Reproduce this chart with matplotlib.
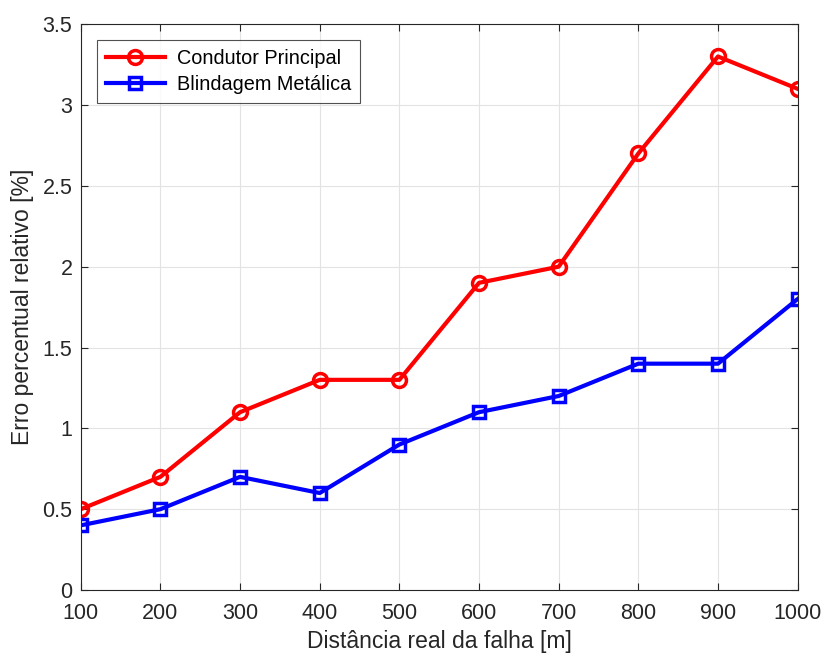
import matplotlib
matplotlib.use("Agg")
import matplotlib.pyplot as plt

distancia = [100, 200, 300, 400, 500, 600, 700, 800, 900, 1000]
erro_condutor = [0.5, 0.7, 1.1, 1.3, 1.3, 1.9, 2.0, 2.7, 3.3, 3.1]
erro_blindagem = [0.4, 0.5, 0.7, 0.6, 0.9, 1.1, 1.2, 1.4, 1.4, 1.8]
yticks = [0, 0.5, 1, 1.5, 2, 2.5, 3, 3.5]
ytick_labels = ["0", "0.5", "1", "1.5", "2", "2.5", "3", "3.5"]

plt.rcParams["font.family"] = ["Liberation Sans", "DejaVu Sans"]

fig = plt.figure(figsize=(8.24, 6.58), dpi=100)
ax = fig.add_axes([0.098, 0.1033, 0.870, 0.860])

ax.plot(distancia, erro_condutor, color="#ff0000", lw=3, marker="o", ms=10,
        mfc="none", mew=2.5, label="Condutor Principal")
ax.plot(distancia, erro_blindagem, color="#0000ff", lw=3, marker="s", ms=8,
        mfc="none", mew=2.5, label="Blindagem Metálica")

ax.set_xlim(100, 1000)
ax.set_ylim(0, 3.5)
ax.set_xticks(distancia)
ax.set_yticks(yticks)
ax.set_yticklabels(ytick_labels)
ax.grid(True, color="#e3e3e3", lw=0.8)
ax.set_axisbelow(True)
for s in ax.spines.values():
    s.set_color("#262626")
    s.set_linewidth(0.8)
ax.tick_params(direction="in", length=5, labelsize=15.5, colors="#262626",
               top=True, right=True)
ax.tick_params(axis="x", pad=9)
ax.tick_params(axis="y", pad=6)

ax.set_xlabel("Distância real da falha [m]", fontsize=16.5, color="#262626",
              labelpad=5)
ax.set_ylabel("Erro percentual relativo [%]", fontsize=16.5, color="#262626",
              labelpad=6)

leg = ax.legend(loc="upper left", fontsize=14.3, frameon=True, fancybox=False,
                edgecolor="#262626", handlelength=3.0, borderaxespad=0.8,
                borderpad=0.45, labelspacing=0.35, handletextpad=0.6)
leg.get_frame().set_linewidth(0.8)

fig.savefig("out.png", dpi=100)
